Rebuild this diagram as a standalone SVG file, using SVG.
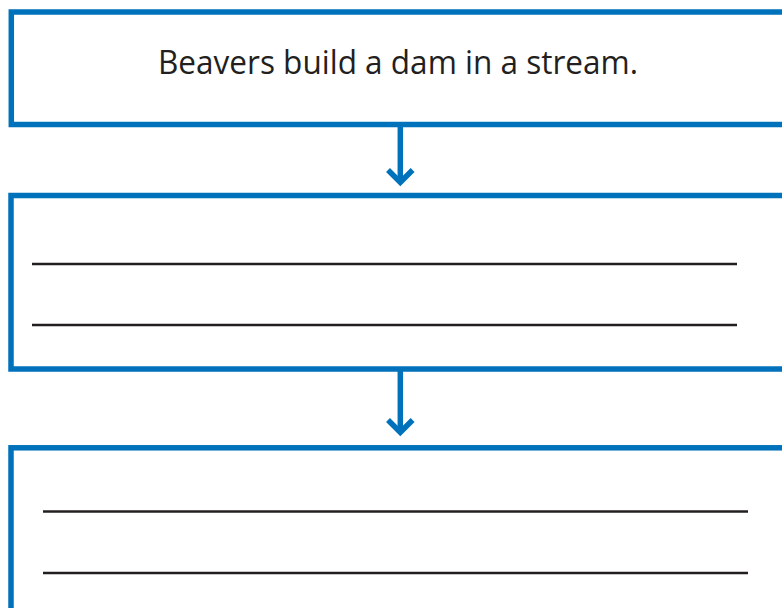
<svg xmlns="http://www.w3.org/2000/svg" width="782" height="608" viewBox="0 0 782 608">
<style>
.box{fill:#fff;stroke:#0072bc;stroke-width:5.5}
.rule{stroke:#231f20;stroke-width:2.6}
.conn{stroke:#0072bc;stroke-width:5.5;fill:none}
.lbl{font-family:"Open Sans","Liberation Sans",sans-serif;font-size:32px;fill:#231f20}
</style>
<rect width="782" height="608" fill="#fff"/>
<g id="node1">
<rect class="box" x="11.3" y="12" width="790" height="112.5"/>
<text class="lbl" x="398" y="73.5" text-anchor="middle" textLength="480" lengthAdjust="spacingAndGlyphs">Beavers build a dam in a stream.</text>
</g>
<g id="node2">
<rect class="box" x="11" y="195.5" width="790" height="173.5"/>
<line class="rule" x1="32" y1="264" x2="737" y2="264"/>
<line class="rule" x1="32" y1="325" x2="737" y2="325"/>
</g>
<g id="node3">
<rect class="box" x="11" y="447.8" width="790" height="200"/>
<line class="rule" x1="43" y1="511.5" x2="748" y2="511.5"/>
<line class="rule" x1="43" y1="573" x2="748" y2="573"/>
</g>
<g id="connectors">
<line class="conn" x1="400.3" y1="126" x2="400.3" y2="181"/>
<polyline class="conn" points="388,170 400.3,182.3 412.6,170"/>
<line class="conn" x1="400.3" y1="371" x2="400.3" y2="432"/>
<polyline class="conn" points="388,420 400.3,432.3 412.6,420"/>
</g>
</svg>
